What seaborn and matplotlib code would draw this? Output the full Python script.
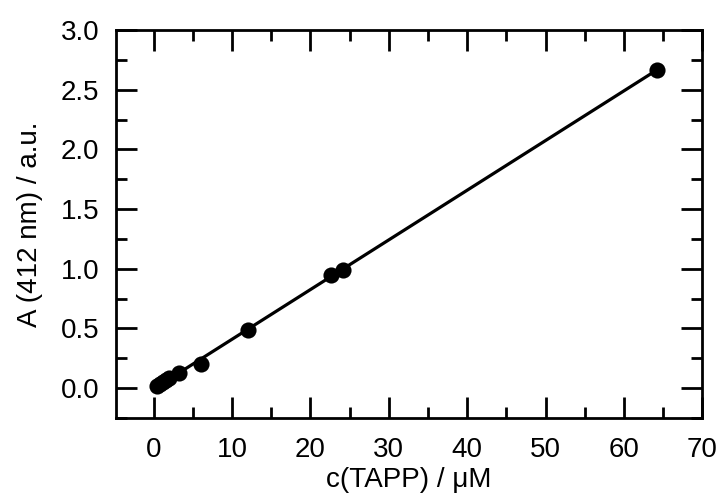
import matplotlib
matplotlib.use("Agg")
import matplotlib.pyplot as plt
import seaborn as sns
import numpy as np
from matplotlib.ticker import MultipleLocator

conc = [0.4, 0.8, 1.2, 1.6, 2.0, 3.2, 6.0, 12.0, 22.6, 24.1, 64.2]
absorb = [0.017, 0.033, 0.05, 0.066, 0.083, 0.125, 0.205, 0.485, 0.945, 0.985, 2.67]
xlabel = "c(TAPP) / \u03bcM"
ylabel = "A (412 nm) / a.u."

sns.set_style("ticks")
plt.rcParams['font.family'] = ['Liberation Sans', 'DejaVu Sans']
plt.rcParams['text.color'] = 'black'
plt.rcParams['axes.labelcolor'] = 'black'

fig = plt.figure(figsize=(7.21, 4.95), dpi=100)
ax = fig.add_axes([0.161, 0.156, 0.813, 0.783])

sns.regplot(x=conc, y=absorb, ci=None, truncate=True, ax=ax,
            scatter_kws=dict(s=135, color="black", edgecolor="black", linewidths=0, alpha=1, zorder=3),
            line_kws=dict(color="black", lw=2.3))

ax.set_xlim(-4.8, 70)
ax.set_ylim(-0.25, 3.0)
ax.xaxis.set_major_locator(MultipleLocator(10))
ax.xaxis.set_minor_locator(MultipleLocator(5))
ax.yaxis.set_major_locator(MultipleLocator(0.5))
ax.yaxis.set_minor_locator(MultipleLocator(0.25))
ax.yaxis.set_major_formatter(matplotlib.ticker.FormatStrFormatter('%.1f'))

ax.tick_params(which='both', direction='in', top=True, right=True, width=2, labelsize=20, pad=12, color='black', labelcolor='black')
ax.tick_params(axis='x', which='both', pad=14)
ax.tick_params(which='major', length=15)
ax.tick_params(which='minor', length=8)
for s in ax.spines.values():
    s.set_linewidth(2)
    s.set_color('black')

ax.set_xlabel(xlabel, fontsize=20, labelpad=3)
ax.set_ylabel(ylabel, fontsize=20, labelpad=13)

fig.savefig("out.png", dpi=100)
